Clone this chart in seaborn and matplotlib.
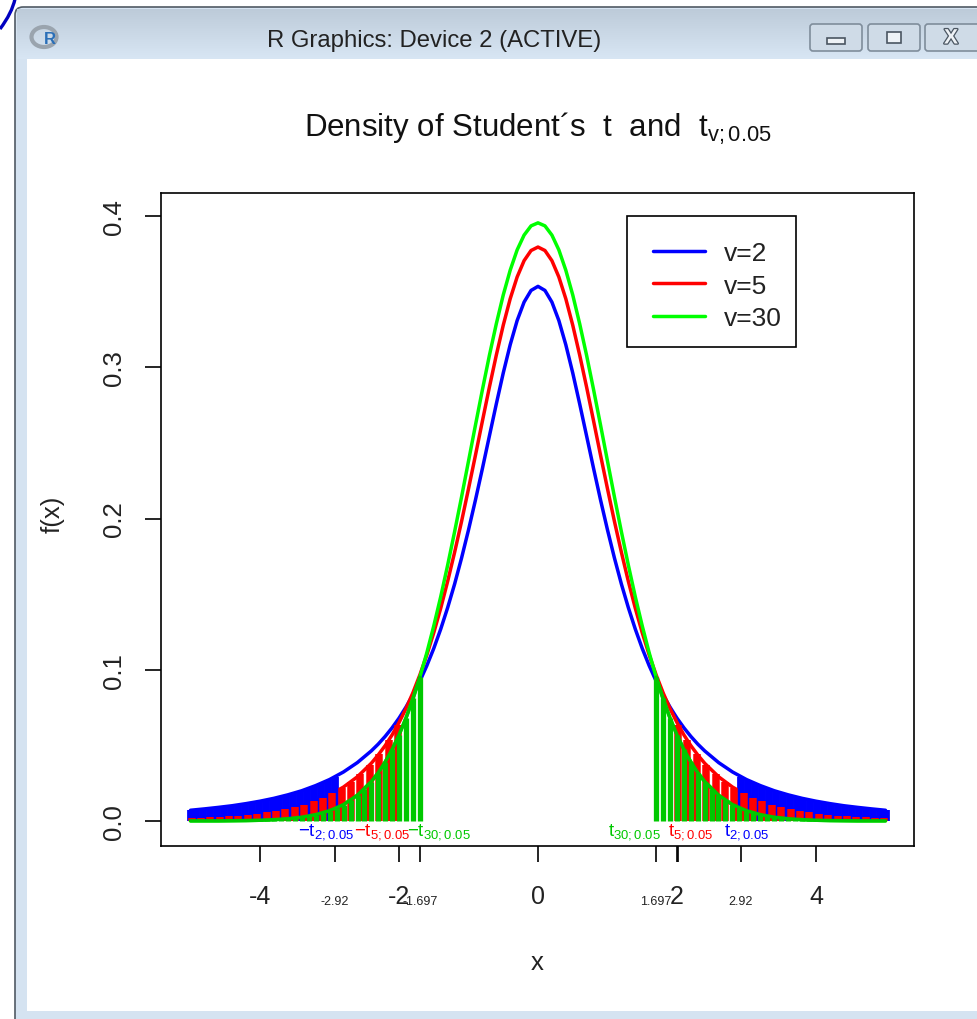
import matplotlib
matplotlib.use("Agg")
import matplotlib.pyplot as plt
import matplotlib.patheffects as pe
import seaborn as sns
import numpy as np
import pandas as pd
from matplotlib.patches import Rectangle, FancyBboxPatch, Ellipse, PathPatch
from matplotlib.path import Path

# ---------- data ----------
X_HALF = [0.0,0.1,0.2,0.3,0.4,0.5,0.6,0.7,0.8,0.9,1.0,1.1,1.2,1.3,1.4,1.5,1.6,1.7,1.8,1.9,2.0,2.1,2.2,2.3,2.4,
          2.6,2.8,3.0,3.2,3.4,3.6,3.8,4.0,4.2,4.4,4.6,4.8,5.0]
V2_HALF = [.3536,.3509,.3432,.3310,.3150,.2963,.2758,.2545,.2331,.2123,.1925,.1739,.1567,.1411,.1269,.1141,.1027,.0925,.0834,.0753,.0680,.0616,.0559,.0508,.0463,
           .0386,.0324,.0274,.0234,.0200,.0173,.0150,.0131,.0115,.0101,.0090,.0080,.0071]
V5_HALF = [.3796,.3773,.3706,.3598,.3454,.3279,.3081,.2868,.2645,.2419,.2197,.1981,.1777,.1585,.1407,.1245,.1098,.0966,.0848,.0743,.0651,.0569,.0498,.0436,.0381,
           .0292,.0224,.0173,.0134,.0105,.0082,.0065,.0051,.0041,.0033,.0027,.0022,.0018]
V30_HALF = [.3956,.3936,.3875,.3777,.3643,.3479,.3288,.3078,.2852,.2618,.2380,.2143,.1913,.1692,.1483,.1290,.1112,.0951,.0807,.0680,.0569,.0472,.0390,.0319,.0260,
            .0170,.0108,.0068,.0042,.0025,.0015,.0009,.0005,.0003,.0002,.0001,.0001,.0001]

BLUE_X = [2.92,3.02,3.12,3.22,3.32,3.42,3.52,3.62,3.72,3.82,3.92,4.02,4.12,4.22,4.32,4.42,4.52,4.62,4.72,4.82,4.92,5.0]
BLUE_H = [.0293,.0270,.0249,.0230,.0213,.0197,.0183,.0170,.0159,.0148,.0138,.0129,.0121,.0113,.0107,.0100,.0094,.0089,.0084,.0079,.0075,.0071]
RED_X = [2.015,2.15,2.285,2.42,2.555,2.69,2.825,2.96,3.095,3.23,3.365,3.5,3.635,3.77,3.905,4.04,4.175,4.31,4.445,4.58,4.715,4.85,4.985]
RED_H = [.0638,.0533,.0444,.0371,.0310,.0259,.0217,.0182,.0153,.0129,.0109,.0092,.0079,.0067,.0057,.0049,.0042,.0036,.0031,.0027,.0024,.0021,.0018]
GREEN_X = [1.697,1.797,1.897,1.997,2.097,2.197,2.297,2.397,2.497,2.597,2.697,2.797,2.897,2.997,3.097,3.197,3.297,3.397,3.497,3.597,3.697,3.797,3.897,3.997,4.097,4.197,4.297,4.397,4.497,4.597,4.697,4.797,4.897,4.997]
GREEN_H = [.0955,.0811,.0684,.0572,.0475,.0391,.0320,.0261,.0212,.0171,.0137,.0109,.0087,.0069,.0054,.0042,.0033,.0025,.0020,.0015,.0012,.0009,.0007,.0005,.0004,.0003,.0002,.0002,.0002,.0001,.0001,.0001,.0001,.0001]

SERIES = ["v=2", "v=5", "v=30"]
COLORS = ["#0000ff", "#ff0000", "#00ff00"]
GREEN_BAR = "#00c800"
TAIL_FROM = 17  # index in X_HALF where the shaded green tail starts
MAJOR_X = [-4, -2, 0, 2, 4]
MINOR_X = [-2.92, -1.697, 1.697, 2.92]
MINOR_X_LABELS = ["-2.92", "-1.697", "1.697", "2.92"]
EXTRA_TICK = [2.015]
Y_TICKS = [0.0, 0.1, 0.2, 0.3, 0.4]

sns.set_theme(style="ticks")
plt.rcParams["font.family"] = ["Liberation Sans", "DejaVu Sans"]
plt.rcParams["mathtext.fontset"] = "custom"
plt.rcParams["mathtext.rm"] = "Liberation Sans"
plt.rcParams["mathtext.it"] = "Liberation Sans"
plt.rcParams["mathtext.default"] = "regular"

W, H = 977, 1020
fig = plt.figure(figsize=(W / 100, H / 100), dpi=100, facecolor="white")

# ---------- window chrome (pixel coordinates) ----------
bg = fig.add_axes([0, 0, 1, 1], zorder=0)
bg.set_xlim(0, W); bg.set_ylim(H, 0); bg.axis("off")
bg.add_patch(FancyBboxPatch((15, 8), W + 40, H + 40, boxstyle="round,pad=0,rounding_size=8",
                            fc="#d5e3f1", ec="#505a64", lw=1.2))
grad = np.linspace(0, 1, 52)[:, None]
top = np.array([0xbd, 0xcb, 0xd9]) / 255
bot = np.array([0xd8, 0xe6, 0xf4]) / 255
img = (top[None, None, :] * (1 - grad[..., None]) + bot[None, None, :] * grad[..., None])
bg.imshow(img, extent=(17, W, 60, 10), aspect="auto", zorder=1)
bg.set_xlim(0, W); bg.set_ylim(H, 0)
bg.add_patch(Rectangle((27, 60), W - 27, 952, fc="white", ec="none", zorder=2))
arc = Path([(15, 0), (12, 14), (0, 30)], [Path.MOVETO, Path.CURVE3, Path.CURVE3])
bg.add_patch(PathPatch(arc, fc="none", ec="#0000c0", lw=2.4, zorder=3))
bg.add_patch(Ellipse((44, 38), 25, 20, fc="none", ec="#9aa4ae", lw=3, zorder=3))
bg.text(50, 40, "R", color="#2a6fb8", fontsize=12, fontweight="bold", ha="center", va="center", zorder=4)
bg.text(434.5, 41, "R Graphics: Device 2 (ACTIVE)", fontsize=17.2, color="#222222",
        ha="center", va="center", zorder=4)
for bx, bw, glyph in [(810, 52, "min"), (868, 52, "max"), (925, 60, "close")]:
    bg.add_patch(FancyBboxPatch((bx, 25), bw, 27, boxstyle="round,pad=0,rounding_size=3",
                                fc="#cfdbe7", ec="#7f8d9b", lw=1.2, zorder=3))
    cx = bx + 26
    if glyph == "min":
        bg.add_patch(Rectangle((cx - 9, 39), 18, 6, fc="#eef2f6", ec="#4a5561", lw=1.2, zorder=4))
    elif glyph == "max":
        bg.add_patch(Rectangle((cx - 7, 33), 14, 11, fc="#eef2f6", ec="#4a5561", lw=1.2, zorder=4))
    else:
        bg.text(cx, 39, "X", fontsize=15, fontweight="bold", color="#eef2f6", ha="center", va="center",
                zorder=4, path_effects=[pe.withStroke(linewidth=1.8, foreground="#4a5561")])

# ---------- chart ----------
L, R, T, B = 161, 914, 194, 847
ax = fig.add_axes([L / W, (H - B) / H, (R - L) / W, (B - T) / H], zorder=2)
ax.set_facecolor("none")

xs = [-v for v in reversed(X_HALF[1:])] + X_HALF
frames = []
for name, half in zip(SERIES, [V2_HALF, V5_HALF, V30_HALF]):
    ys = list(reversed(half[1:])) + half
    frames.append(pd.DataFrame({"x": xs, "f": ys, "series": name}))
df = pd.concat(frames, ignore_index=True)

sns.lineplot(data=df, x="x", y="f", hue="series", hue_order=SERIES, palette=COLORS,
             linewidth=2.5, ax=ax, sort=False, errorbar=None, estimator=None, zorder=1)

for xv, hv, col, lw, z in [(BLUE_X, BLUE_H, "#0000ff", 5.6, 1.1),
                           (RED_X, RED_H, "#ff0000", 5.4, 1.2),
                           (GREEN_X, GREEN_H, GREEN_BAR, 3.8, 1.3)]:
    for sign in (-1, 1):
        ax.vlines([sign * v for v in xv], 0, hv, colors=col, linewidth=lw, zorder=z, capstyle="butt")

# the v=30 curve stays visible as a thin green strip along the tails, above the red bars
for sign in (-1, 1):
    sns.lineplot(x=[sign * v for v in X_HALF[TAIL_FROM:]], y=V30_HALF[TAIL_FROM:], color=GREEN_BAR,
                 linewidth=2.5, ax=ax, sort=False, errorbar=None, estimator=None, zorder=1.25, legend=False)

ax.set_xlim((L - 538) / 69.5, (R - 538) / 69.5)
ax.set_ylim((822 - B) / 1512, (822 - T) / 1512)

for s in ax.spines.values():
    s.set_visible(True); s.set_linewidth(1.2); s.set_color("black")

ax.set_xticks(MAJOR_X)
ax.set_xticklabels([str(v) for v in MAJOR_X])
ax.set_xticks(MINOR_X + EXTRA_TICK, minor=True)
ax.set_xticklabels(MINOR_X_LABELS + [""], minor=True)
ax.set_yticks(Y_TICKS)
ax.set_yticklabels([f"{v:.1f}" for v in Y_TICKS], rotation=90, va="center")
ax.tick_params(axis="x", which="major", length=11.5, width=1.2, pad=16, labelsize=18, color="black", labelcolor="#222222")
ax.tick_params(axis="x", which="minor", length=11.5, width=1.2, pad=24, labelsize=9, color="black", labelcolor="#222222")
ax.tick_params(axis="y", which="major", length=11.5, width=1.2, pad=14, labelsize=18.5, color="black", labelcolor="#222222")

ax.set_xlabel("x", fontsize=18.5, color="#222222", va="center")
ax.xaxis.set_label_coords(0.5, -(963 - B) / (B - T))
ax.set_ylabel("f(x)", fontsize=18.5, color="#222222", va="center")
ax.yaxis.set_label_coords((53 - L) / (R - L), 0.51)

ax.set_title("Density of Student\u00b4s  t  and  t$_{v{;}0.05}$", fontsize=22.5, color="#111111", pad=41, loc="center")

for xp, lab, col in [(-3.05, "$-$t$_{2{;}0.05}$", "#0000ff"), (-2.24, "$-$t$_{5{;}0.05}$", "#ff0000"),
                     (-1.42, "$-$t$_{30{;}0.05}$", "#00c800"), (1.39, "t$_{30{;}0.05}$", "#00c800"),
                     (2.20, "t$_{5{;}0.05}$", "#ff0000"), (3.0, "t$_{2{;}0.05}$", "#0000ff")]:
    ax.text(xp, -0.0066, lab, color=col, fontsize=13.5, ha="center", va="center", zorder=5)

# legend: frame drawn in pixels, entries from the seaborn handles
bg.add_patch(Rectangle((627, 217), 169, 131, fc="white", ec="black", lw=1.2, zorder=5))
handles, labels = ax.get_legend_handles_labels()
leg = ax.legend(handles[:3], labels[:3], loc="upper left",
                bbox_to_anchor=((653 - L) / (R - L), (B - 242) / (B - T)),
                fontsize=19, frameon=False, borderaxespad=0, handlelength=1.97, handletextpad=0.72,
                labelspacing=0.33, borderpad=0, title=None)
for h in leg.get_lines():
    h.set_linewidth(2.5)
for t in leg.get_texts():
    t.set_color("#222222")

fig.savefig("out.png", dpi=100, facecolor="white")
